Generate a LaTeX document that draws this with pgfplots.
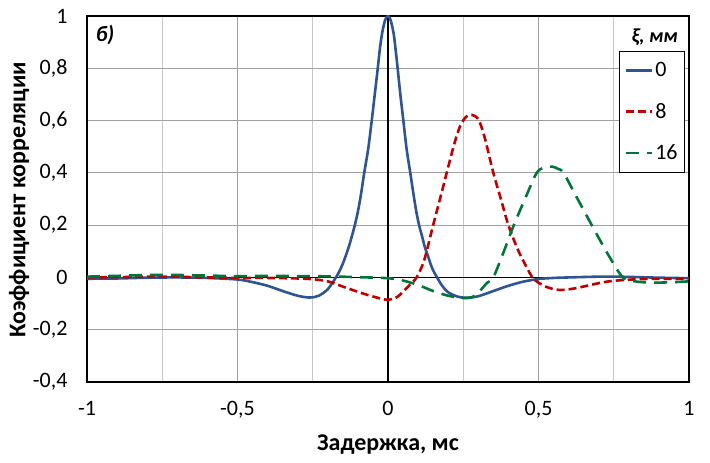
\documentclass[border=0pt]{standalone}
\usepackage{fontspec}
\setmainfont{Carlito}
\usepackage{pgfplots}
\pgfplotsset{compat=1.18}
\definecolor{cblue}{RGB}{46,84,146}
\definecolor{cred}{RGB}{192,0,0}
\definecolor{cgreen}{RGB}{0,118,56}
\definecolor{gmaj}{RGB}{160,160,160}
\definecolor{gmin}{RGB}{200,200,200}
\newcommand\fs{\fontsize{22}{26}\selectfont}
\newcommand\fl{\fontsize{24}{28}\selectfont}
\begin{document}
\begin{tikzpicture}[x=1pt,y=1pt]
\useasboundingbox (0,0) rectangle (710,463);
\begin{axis}[
  at={(87pt,81pt)}, anchor=south west,
  scale only axis, width=602pt, height=366pt,
  xmin=-1, xmax=1, ymin=-0.4, ymax=1,
  xtick={-1,-0.5,0,0.5,1},
  minor xtick={-0.75,-0.25,0.25,0.75},
  ytick={-0.4,-0.2,0,0.2,0.4,0.6,0.8,1},
  grid=both,
  major grid style={gmaj, line width=1.1pt},
  minor grid style={gmin, line width=1.1pt},
  tick style={draw=none},
  axis line style={black, line width=1.1pt},
  /pgf/number format/assume math mode=true,
  /pgf/number format/use comma,
  ticklabel style={font=\fs},
  yticklabel style={xshift=-16pt},
  xticklabel style={yshift=-16pt},
  xlabel={\textbf{Задержка, мс}},
  xlabel style={font=\fl, at={(axis description cs:0.5,-0.17)}, anchor=center},
  legend style={at={(axis description cs:0.9934,0.9044)}, anchor=north east,
    font=\fs, draw=black, line width=0.8pt, inner xsep=5pt, inner ysep=9pt,
    row sep=21pt, legend cell align=left},
  legend image code/.code={\draw[#1, line width=2.6pt] (0pt,0pt) -- (26pt,0pt);},
  every axis plot/.append style={line width=2.6pt},
]
\draw[black, line width=1.1pt] (axis cs:-1,0) -- (axis cs:1,0);
\draw[black, line width=1.1pt] (axis cs:0,-0.4) -- (axis cs:0,1);
\addplot[cblue, smooth, tension=0.5] coordinates {
(-1,-0.005) (-0.9,-0.004) (-0.8,-0.001) (-0.7,0.0) (-0.6,-0.002) (-0.5,-0.008)
(-0.45,-0.018) (-0.4,-0.032) (-0.35,-0.052) (-0.3,-0.07) (-0.26,-0.077) (-0.23,-0.07)
(-0.2,-0.045) (-0.173,0) (-0.16,0.027) (-0.15,0.053) (-0.14,0.084) (-0.13,0.118)
(-0.12,0.158) (-0.11,0.201) (-0.1,0.252) (-0.09,0.316) (-0.079,0.4) (-0.066,0.49)
(-0.054,0.6) (-0.044,0.7) (-0.034,0.8) (-0.027,0.874) (-0.02,0.931) (-0.01,0.983)
(0,1)
(0.009,0.983) (0.019,0.931) (0.025,0.874) (0.032,0.8) (0.041,0.7) (0.051,0.6)
(0.062,0.49) (0.074,0.4) (0.085,0.316) (0.094,0.252) (0.103,0.201) (0.113,0.158)
(0.122,0.118) (0.132,0.084) (0.141,0.053) (0.150,0.027) (0.163,0)
(0.18,-0.032) (0.2,-0.057) (0.23,-0.073) (0.26,-0.078) (0.3,-0.072) (0.35,-0.052)
(0.4,-0.032) (0.45,-0.016) (0.5,-0.006) (0.55,-0.002) (0.6,0.0) (0.7,0.003)
(0.75,0.003) (0.8,0.002) (0.9,-0.001) (1,-0.003)
};
\addlegendentry{0}
\addplot[cred, smooth, tension=0.5, dash pattern=on 8pt off 4pt] coordinates {
(-1,0.0) (-0.9,0.001) (-0.75,0.003) (-0.6,0.0) (-0.5,-0.002) (-0.4,-0.002)
(-0.3,-0.004) (-0.25,-0.007) (-0.2,-0.015) (-0.15,-0.035) (-0.1,-0.055)
(-0.05,-0.073) (0,-0.086) (0.03,-0.075) (0.05,-0.055) (0.075,-0.025) (0.095,0.0)
(0.12,0.065) (0.15,0.2) (0.175,0.31) (0.195,0.4) (0.22,0.51) (0.24,0.58)
(0.26,0.615) (0.278,0.622) (0.3,0.605) (0.32,0.54) (0.35,0.4) (0.375,0.3)
(0.4,0.2) (0.43,0.11) (0.46,0.04) (0.48,0.0) (0.5,-0.02) (0.53,-0.038)
(0.57,-0.048) (0.62,-0.042) (0.7,-0.022) (0.75,-0.013) (0.85,-0.006) (1,-0.005)
};
\addlegendentry{8}
\addplot[cgreen, smooth, tension=0.5, dash pattern=on 13pt off 8pt] coordinates {
(-1,0.003) (-0.9,0.006) (-0.75,0.01) (-0.6,0.007) (-0.5,0.005) (-0.4,0.006)
(-0.3,0.005) (-0.2,0.004) (-0.1,0.001) (0,-0.003) (0.05,-0.012) (0.1,-0.029)
(0.15,-0.052) (0.2,-0.07) (0.25,-0.079) (0.28,-0.075) (0.3,-0.058) (0.33,-0.02)
(0.35,0.0) (0.385,0.1) (0.418,0.2) (0.455,0.3) (0.494,0.4) (0.52,0.42)
(0.545,0.424) (0.565,0.415) (0.583,0.4) (0.63,0.3) (0.677,0.2) (0.73,0.09)
(0.78,0.0) (0.82,-0.015) (0.88,-0.02) (0.95,-0.018) (1,-0.015)
};
\addlegendentry{16}
\node[font=\fs\bfseries\itshape] at (rel axis cs:0.03,0.948) {б)};
\node[font=\fontsize{20}{24}\selectfont\bfseries\itshape] at (rel axis cs:0.943,0.943) {ξ, мм};
\end{axis}
\node[font=\fl\bfseries, rotate=90] at (19,263) {Коэффициент корреляции};
\end{tikzpicture}
\end{document}
